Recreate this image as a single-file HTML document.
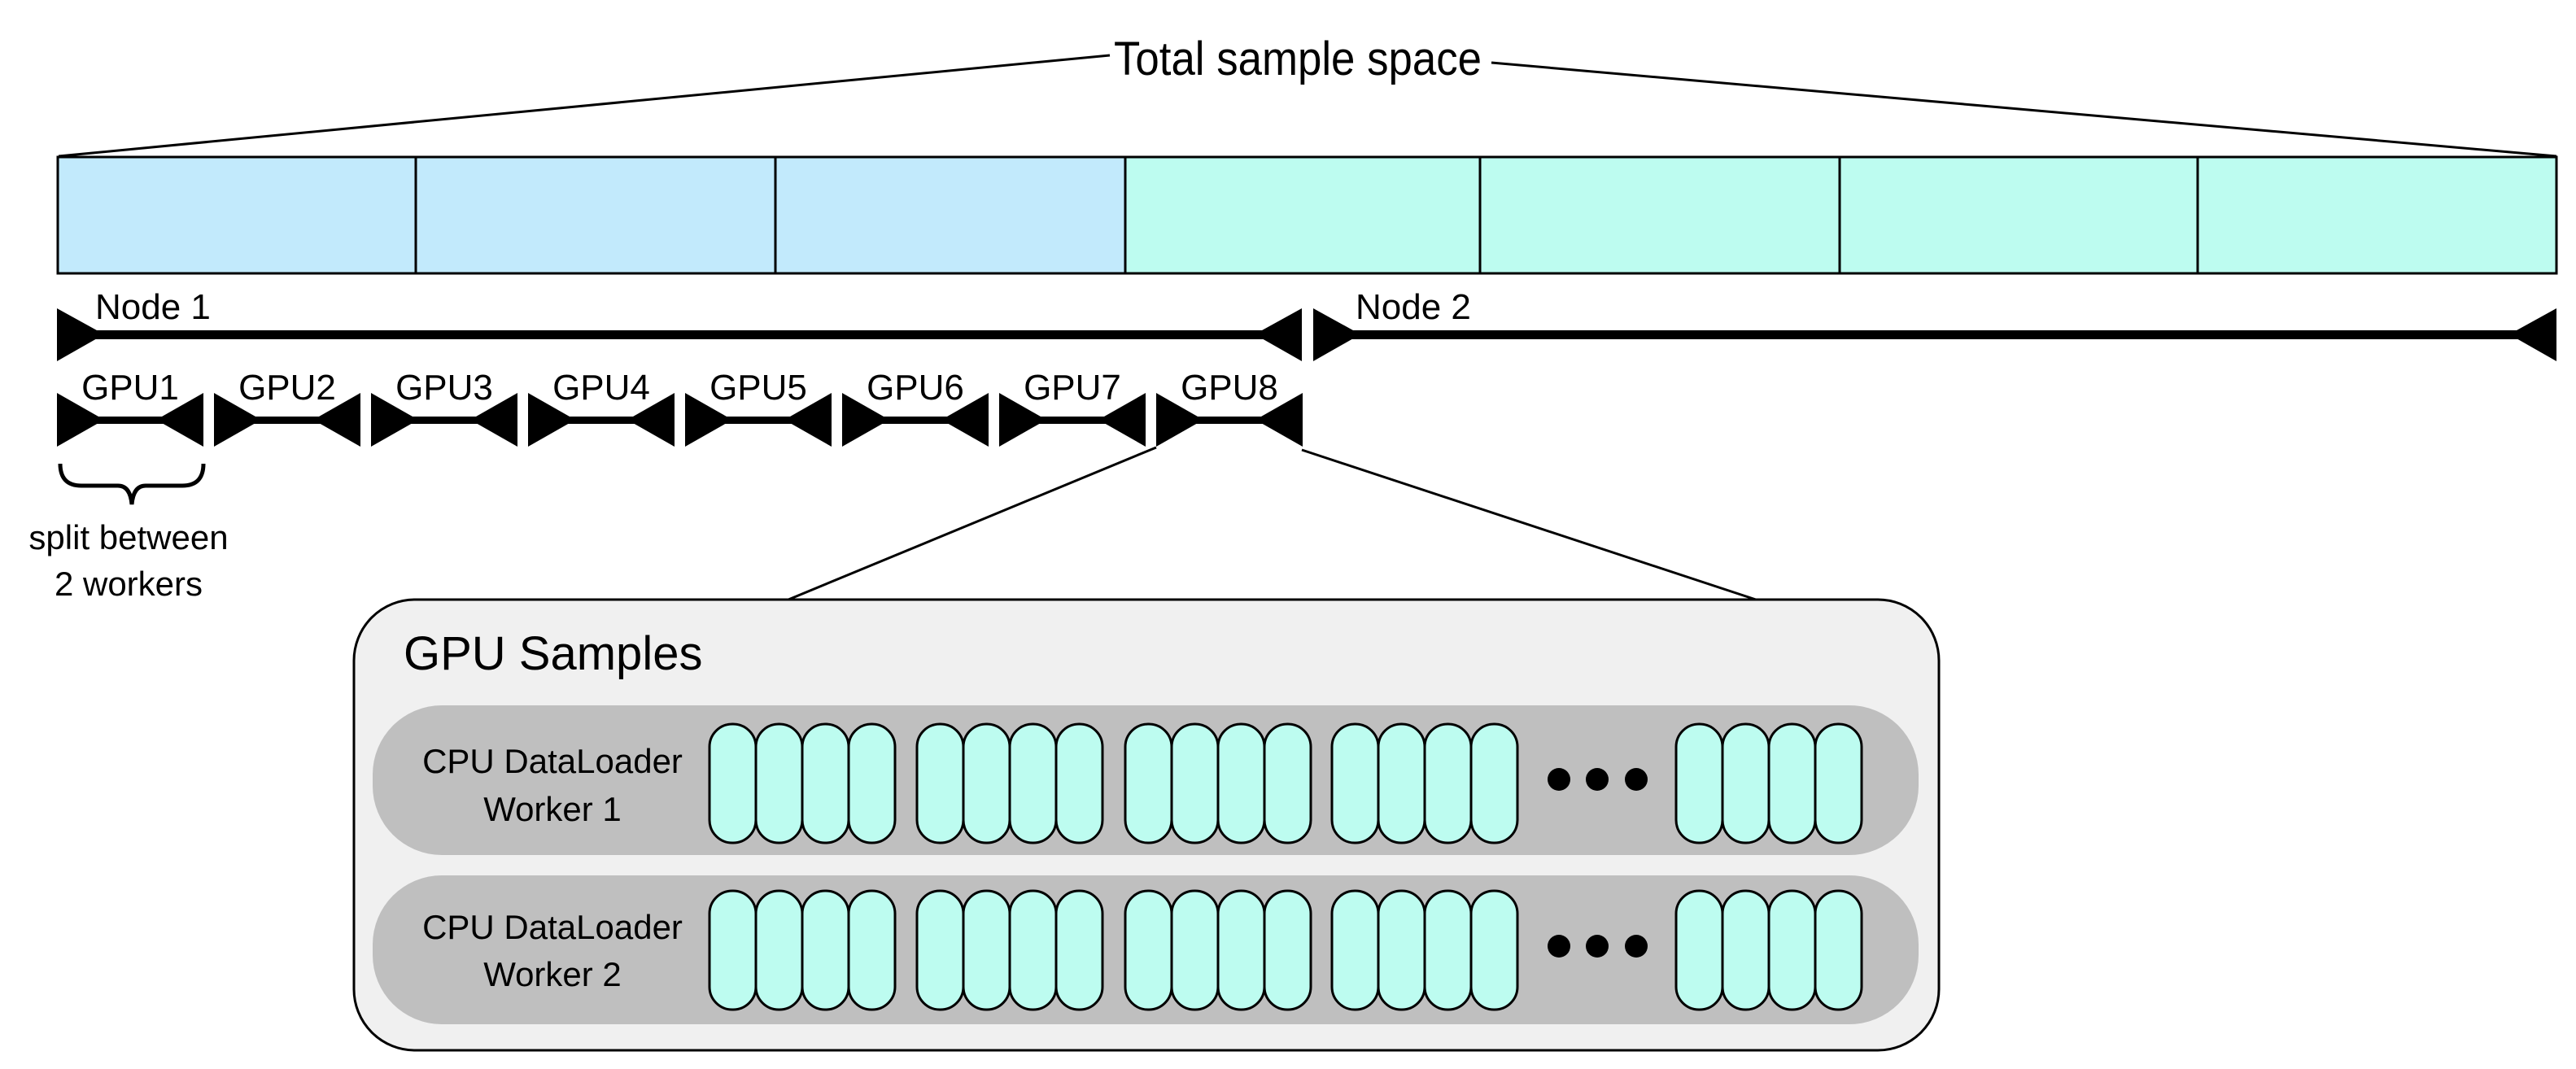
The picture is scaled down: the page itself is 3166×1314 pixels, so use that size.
<!DOCTYPE html>
<html><head><meta charset="utf-8"><style>html,body{margin:0;padding:0;background:#fff}svg{display:block}text{font-family:"Liberation Sans",sans-serif;fill:#000}</style></head>
<body>
<svg width="3166" height="1314" viewBox="0 0 3166 1314" xmlns="http://www.w3.org/2000/svg">
<!-- top label + lines -->
<line x1="72" y1="192" x2="1364" y2="68" stroke="#000" stroke-width="3"/>
<line x1="1833" y1="77" x2="3142" y2="192" stroke="#000" stroke-width="3"/>
<text x="1369" y="92" font-size="58" textLength="452" lengthAdjust="spacingAndGlyphs">Total sample space</text>
<!-- bar -->
<rect x="71" y="193" width="1312" height="143" fill="#c2eafc"/>
<rect x="1383" y="193" width="1759" height="143" fill="#bdfcf0"/>
<rect x="71" y="193" width="3071" height="143" fill="none" stroke="#000" stroke-width="3"/>
<g stroke="#000" stroke-width="3">
<line x1="511" y1="193" x2="511" y2="336"/><line x1="953" y1="193" x2="953" y2="336"/><line x1="1383" y1="193" x2="1383" y2="336"/>
<line x1="1819" y1="193" x2="1819" y2="336"/><line x1="2261" y1="193" x2="2261" y2="336"/><line x1="2701" y1="193" x2="2701" y2="336"/>
</g>
<!-- node arrows -->
<g fill="#000">
<rect x="100" y="406" width="1470" height="11"/>
<polygon points="70,379 128,411 70,444"/>
<polygon points="1600,379 1542,411 1600,444"/>
<rect x="1640" y="406" width="1475" height="11"/>
<polygon points="1614,379 1672,411 1614,444"/>
<polygon points="3142,379 3084,411 3142,444"/>
</g>
<text x="117" y="392" font-size="44">Node 1</text>
<text x="1666" y="392" font-size="44">Node 2</text>
<!-- GPU arrows -->
<g fill="#000">
<g id="g1"><rect x="90" y="512" width="140" height="9"/><polygon points="70,483 128,516 70,549"/><polygon points="250,483 192,516 250,549"/></g>
<use href="#g1" x="193"/><use href="#g1" x="386"/><use href="#g1" x="579"/><use href="#g1" x="772"/><use href="#g1" x="965"/><use href="#g1" x="1158"/><use href="#g1" x="1351"/>
</g>
<g font-size="44" text-anchor="middle">
<text x="160" y="491">GPU1</text><text x="353" y="491">GPU2</text><text x="546" y="491">GPU3</text><text x="739" y="491">GPU4</text>
<text x="932" y="491">GPU5</text><text x="1125" y="491">GPU6</text><text x="1318" y="491">GPU7</text><text x="1511" y="491">GPU8</text>
</g>
<!-- brace -->
<path d="M74,570 Q74,597 100,597 L145,597 Q160,597 162,620 Q164,597 179,597 L224,597 Q250,597 250,570" fill="none" stroke="#000" stroke-width="5"/>
<g font-size="42" text-anchor="middle"><text x="158" y="675">split between</text><text x="158" y="732">2 workers</text></g>
<!-- connectors -->
<line x1="1421" y1="550" x2="969" y2="737" stroke="#000" stroke-width="3"/>
<line x1="1600" y1="553" x2="2158" y2="737" stroke="#000" stroke-width="3"/>
<!-- GPU samples box -->
<rect x="435" y="737" width="1948" height="554" rx="75" ry="75" fill="#f0f0f0" stroke="#000" stroke-width="3"/>
<text x="496" y="823" font-size="58">GPU Samples</text>
<rect x="458" y="867" width="1900" height="184" rx="85" ry="85" fill="#bfbfbf"/>
<rect x="458" y="1076" width="1900" height="183" rx="85" ry="85" fill="#bfbfbf"/>
<g font-size="42" text-anchor="middle">
<text x="679" y="950">CPU DataLoader</text><text x="679" y="1009">Worker 1</text>
<text x="679" y="1154">CPU DataLoader</text><text x="679" y="1212">Worker 2</text>
</g>
<defs>
<g id="grp"><g fill="#bdfcf0" stroke="#000" stroke-width="3">
<rect x="0" y="0" width="57" height="146" rx="28" ry="28"/>
<rect x="57" y="0" width="57" height="146" rx="28" ry="28"/>
<rect x="114" y="0" width="57" height="146" rx="28" ry="28"/>
<rect x="171" y="0" width="57" height="146" rx="28" ry="28"/>
</g></g>
<g id="row">
<use href="#grp" x="872"/><use href="#grp" x="1127"/><use href="#grp" x="1383"/><use href="#grp" x="1637"/><use href="#grp" x="2060"/>
<circle cx="1916" cy="68" r="14" fill="#000"/><circle cx="1963" cy="68" r="14" fill="#000"/><circle cx="2011" cy="68" r="14" fill="#000"/>
</g>
</defs>
<use href="#row" y="890"/>
<use href="#row" y="1095"/>
</svg>
</body></html>
